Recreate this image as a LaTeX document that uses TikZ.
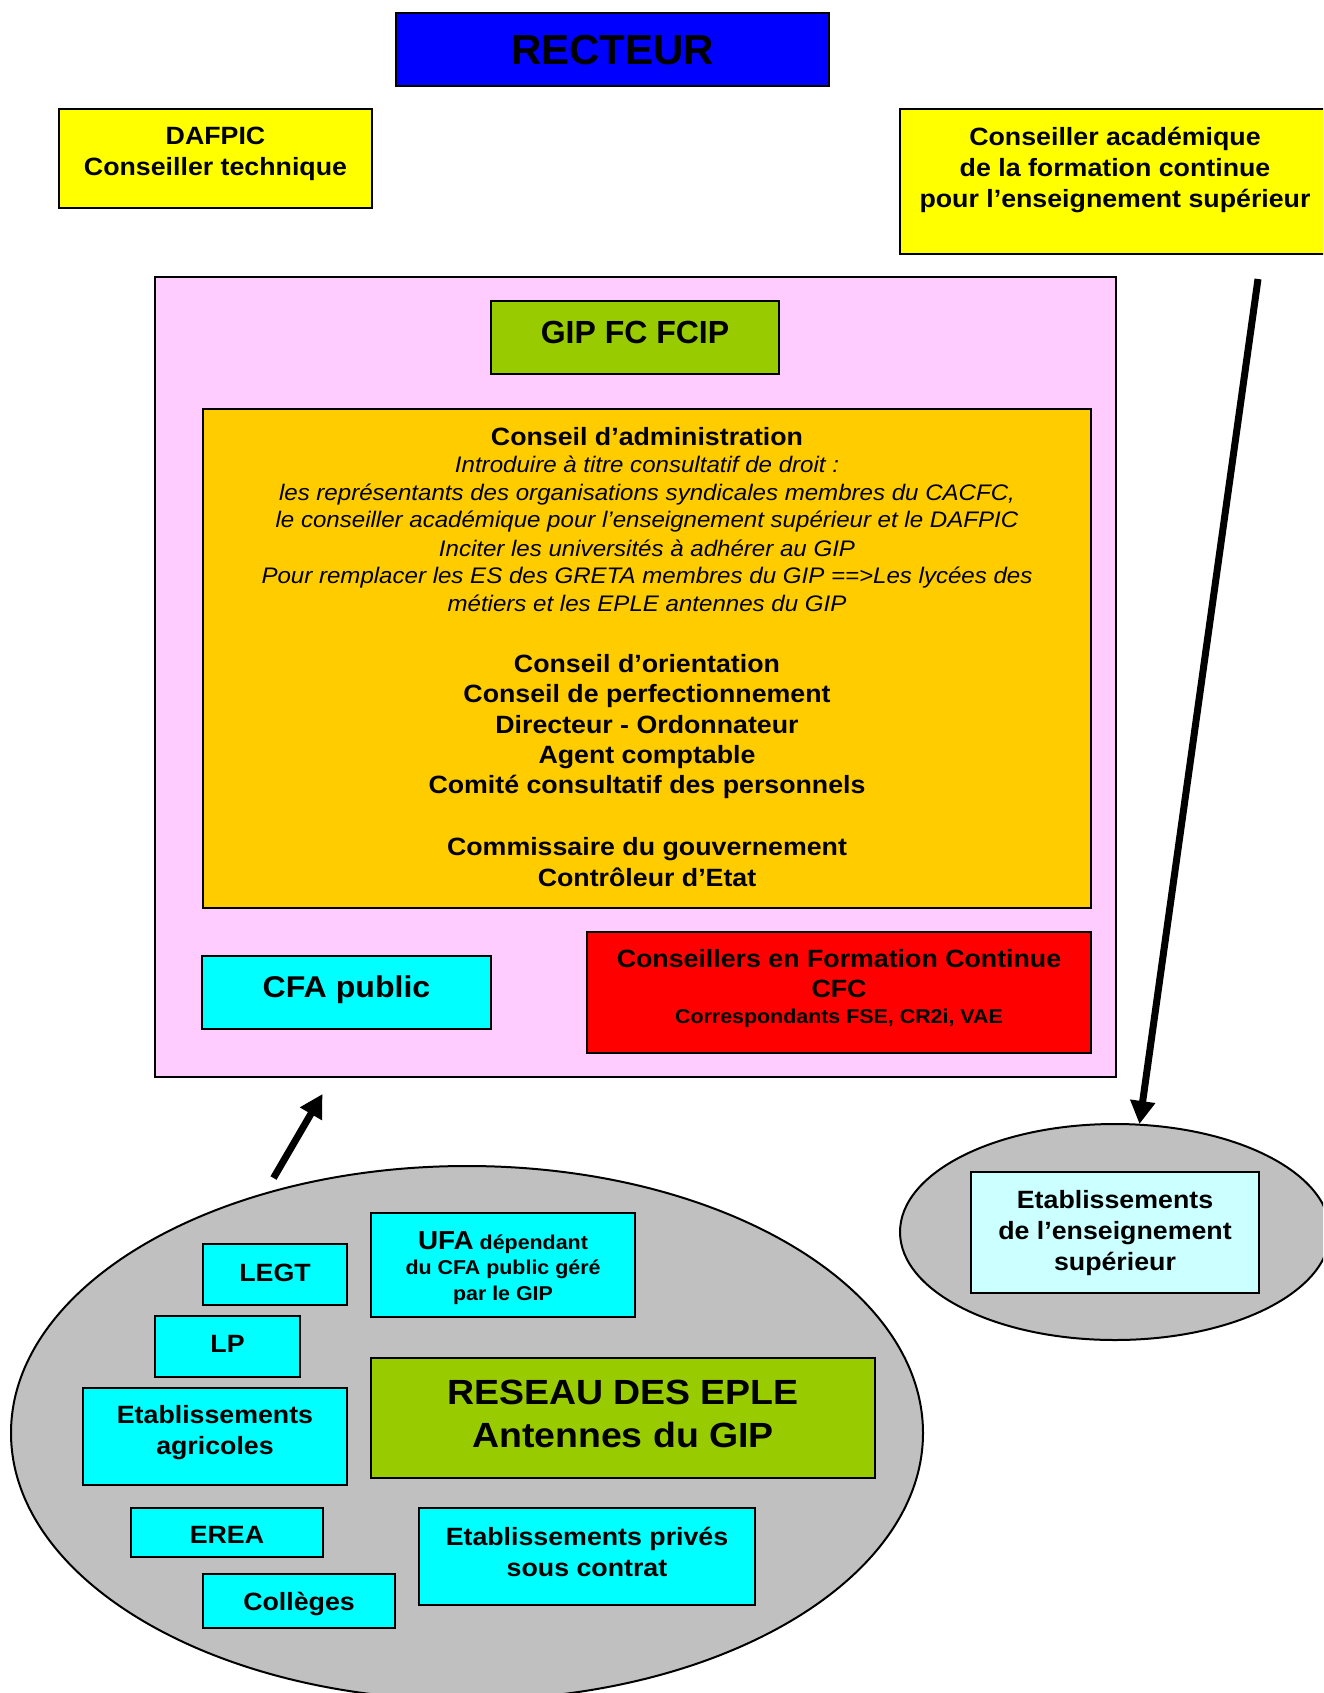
\documentclass[tikz,border=0pt]{standalone}
\usepackage{fontspec}
\setmainfont{Liberation Sans}[FakeStretch=1.07]
\newfontfamily\plainarial{Liberation Sans}
\usetikzlibrary{arrows.meta,shapes.geometric}
\newcommand\fsz[2]{\fontsize{#1}{#2}\selectfont}
\definecolor{recblue}{HTML}{0000FF}
\definecolor{jaune}{HTML}{FFFF00}
\definecolor{rose}{HTML}{FFCCFF}
\definecolor{vert}{HTML}{99CC00}
\definecolor{orangec}{HTML}{FFCC00}
\definecolor{cyanc}{HTML}{00FFFF}
\definecolor{rouge}{HTML}{FF0000}
\definecolor{cyanpale}{HTML}{CCFFFF}
\definecolor{grisc}{HTML}{C0C0C0}
\begin{document}
\begin{tikzpicture}[x=1pt,y=-1pt,
  box/.style={draw=black,line width=2pt,rectangle,inner sep=0pt},
  oval/.style={draw=black,line width=2pt,ellipse,inner sep=0pt,fill=grisc},
  txt/.style={inner sep=0pt,align=center,font=\bfseries\fsz{25}{31}},
  btx/.style={inner sep=0pt,anchor=base,font=\bfseries\fsz{25}{31}},
  itx/.style={inner sep=0pt,anchor=base,font=\itshape\fsz{22.5}{27}},
  arr/.style={line width=7pt,-{Triangle[length=23pt,width=24pt]}}]
\clip (0,0) rectangle (1323,1693);
\fill[white] (0,0) rectangle (1323,1693);

% top row
\node[box,fill=recblue,minimum width=433pt,minimum height=73pt] (recteur) at (612.5,49.5) {};
\node[btx,font=\plainarial\bfseries\fsz{42}{48}] (recteurt) at (612.5,64.5) {RECTEUR};

\node[box,fill=jaune,minimum width=313pt,minimum height=99pt] (dafpic) at (215.5,158.5) {};
\node[txt] (dafpict) at (215.5,154) {DAFPIC\\Conseiller technique};

\node[box,fill=jaune,minimum width=430pt,minimum height=145pt] (cacad) at (1115,181.5) {};
\node[txt] (cacadt) at (1115,169.5) {Conseiller académique\\de la formation continue\\pour l’enseignement supérieur};

% GIP block
\node[box,fill=rose,minimum width=961pt,minimum height=800pt] (gipzone) at (635.5,677) {};
\node[box,fill=vert,minimum width=288pt,minimum height=73pt] (gip) at (635,337.5) {};
\node[btx,font=\plainarial\bfseries\fsz{32}{38}] (gipt) at (635,343) {GIP FC FCIP};

\node[box,fill=orangec,minimum width=888pt,minimum height=499pt] (conseil) at (647,658.5) {};
\node[btx] (c1) at (647,445.2) {Conseil d’administration};
\node[itx] (c2) at (647,472.8) {Introduire à titre consultatif de droit :};
\node[itx] (c3) at (647,500.3) {les représentants des organisations syndicales membres du CACFC,};
\node[itx] (c4) at (647,527.8) {le conseiller académique pour l’enseignement supérieur et le DAFPIC};
\node[itx] (c5) at (647,556) {Inciter les universités à adhérer au GIP};
\node[itx] (c6) at (647,583.3) {Pour remplacer les ES des GRETA membres du GIP ==>Les lycées des};
\node[itx] (c7) at (647,611) {métiers et les EPLE antennes du GIP};
\node[btx] (c8) at (647,672.5) {Conseil d’orientation};
\node[btx] (c9) at (647,702.5) {Conseil de perfectionnement};
\node[btx] (c10) at (647,733.3) {Directeur - Ordonnateur};
\node[btx] (c11) at (647,763.8) {Agent comptable};
\node[btx] (c12) at (647,793.8) {Comité consultatif des personnels};
\node[btx] (c13) at (647,855.2) {Commissaire du gouvernement};
\node[btx] (c14) at (647,886.3) {Contrôleur d’Etat};

\node[box,fill=cyanc,minimum width=289pt,minimum height=73pt] (cfa) at (346.5,992.5) {};
\node[btx,font=\bfseries\fsz{30}{36}] (cfat) at (346.5,997.8) {CFA public};

\node[box,fill=rouge,minimum width=504pt,minimum height=121pt] (cfc) at (839,992.5) {};
\node[txt,font=\bfseries\fsz{25}{30}] (cfct) at (839,974) {Conseillers en Formation Continue\\CFC};
\node[txt,font=\bfseries\fsz{20}{22}] (cfcs) at (839,1018) {Correspondants FSE, CR2i, VAE};

% superior education
\node[oval,minimum width=430pt,minimum height=216pt] (supell) at (1115,1232) {};
\node[box,fill=cyanpale,minimum width=288pt,minimum height=121pt] (sup) at (1115,1232.5) {};
\node[txt] (supt) at (1115,1233) {Etablissements\\de l’enseignement\\supérieur};

% EPLE network
\node[oval,minimum width=912pt,minimum height=534pt] (epleell) at (467,1433) {};
\node[box,fill=cyanc,minimum width=144pt,minimum height=61pt] (legt) at (275,1274.5) {};
\node[btx] (legtt) at (275,1281.2) {LEGT};
\node[box,fill=cyanc,minimum width=264pt,minimum height=104pt] (ufa) at (503,1265) {};
\node[txt,font=\bfseries\fsz{20}{25.5}] (ufat) at (503,1268) {{\fsz{26}{25.5}UFA} dépendant\\du CFA public géré\\par le GIP};
\node[box,fill=cyanc,minimum width=145pt,minimum height=61pt] (lp) at (227.5,1346.5) {};
\node[btx] (lpt) at (227.5,1352.5) {LP};
\node[box,fill=cyanc,minimum width=264pt,minimum height=97pt] (agri) at (215,1436.5) {};
\node[txt] (agrit) at (215,1432.5) {Etablissements\\agricoles};
\node[box,fill=vert,minimum width=504pt,minimum height=120pt] (reseau) at (623,1418) {};
\node[txt,font=\bfseries\fsz{35}{43}] (reseaut) at (623,1414) {RESEAU DES EPLE\\Antennes du GIP};
\node[box,fill=cyanc,minimum width=192pt,minimum height=49pt] (erea) at (227,1532.5) {};
\node[btx] (ereat) at (227,1543.7) {EREA};
\node[box,fill=cyanc,minimum width=192pt,minimum height=54pt] (colleges) at (299,1601) {};
\node[btx] (collegest) at (299,1610.6) {Collèges};
\node[box,fill=cyanc,minimum width=336pt,minimum height=97pt] (prives) at (587,1556.5) {};
\node[txt] (privest) at (587,1552) {Etablissements privés\\sous contrat};

% arrows
\coordinate (a1s) at (273.5,1178);
\coordinate (a1e) at (322.5,1094);
\draw[arr] (a1s) -- (a1e);
\coordinate (a2s) at (1258,279);
\coordinate (a2e) at (1139.5,1124);
\draw[arr] (a2s) -- (a2e);
\end{tikzpicture}
\end{document}
